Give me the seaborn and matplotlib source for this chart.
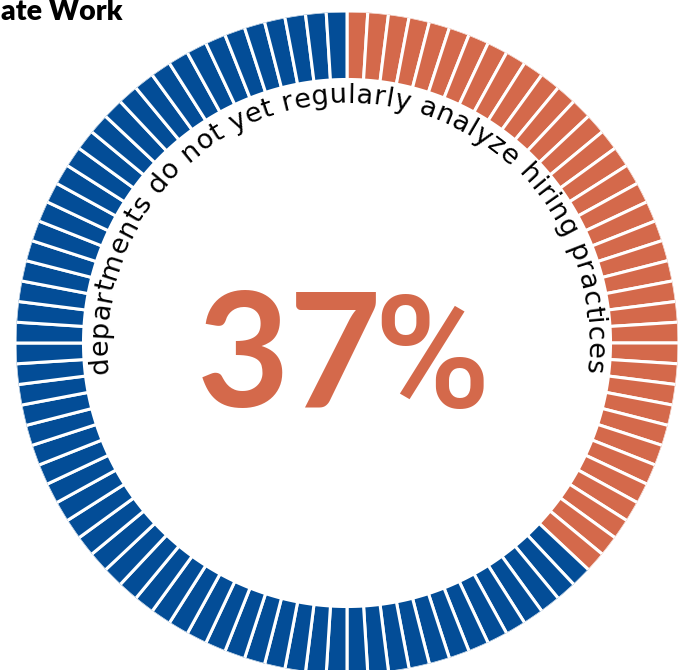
import numpy as np
import pandas as pd
import matplotlib
matplotlib.use("Agg")
import matplotlib.pyplot as plt
from matplotlib.font_manager import FontProperties
import seaborn as sns

# ---------------- data ----------------
title_text = "ate Work"
arc_label = "departments do not yet regularly analyze hiring practices"
share_pct = 37
group_names = ["do not yet analyze", "other"]
group_counts = [37, 63]           # segments out of 100
group_colors = ["#D4694B", "#034D97"]

# ---------------- setup ----------------
sns.set_theme(style="white")
plt.rcParams['font.family'] = ['Lato', 'DejaVu Sans']

W, H, DPI = 688, 670, 100
fig = plt.figure(figsize=(W / DPI, H / DPI), dpi=DPI)
fig.patch.set_facecolor("white")

cx, cy = 347, 343          # ring centre in pixels (from top-left)
R_out, R_in = 331, 264

ax = fig.add_axes([(cx - R_out) / W, (H - cy - R_out) / H, 2 * R_out / W, 2 * R_out / H],
                  projection='polar')
ax.set_theta_zero_location('N')
ax.set_theta_direction(-1)
ax.set_ylim(0, R_out)
ax.set_axis_off()

# segments table
n_seg = sum(group_counts)
seg = pd.DataFrame({
    "idx": np.arange(n_seg),
    "group": np.repeat(group_names, group_counts),
})
palette = dict(zip(group_names, sns.color_palette(group_colors)))
step = 2 * np.pi / n_seg
ax.bar((seg["idx"] + 0.5) * step, R_out - R_in + 1.5, width=step, bottom=R_in - 0.5,
       color=[palette[g] for g in seg["group"]], edgecolor="white", linewidth=2.2,
       align="center")

# ---------------- curved text ----------------
fig.canvas.draw()
renderer = fig.canvas.get_renderer()
fp = FontProperties(family=['DejaVu Sans'], size=19.5)


def tw(s):
    w, h, d = renderer.get_text_width_height_descent(s, fp, ismath=False)
    return w


widths = []
for ch in arc_label:
    if ch == " ":
        widths.append(tw("a a") - tw("aa"))
    else:
        widths.append(tw(ch))
widths = np.array(widths)

r_text = 240.0
start_deg, end_deg = -97.2, 97.2
arc_len = np.deg2rad(end_deg - start_deg) * r_text
tracking = (arc_len - widths.sum()) / (len(arc_label) - 1)
pos = 0.0
for ch, w in zip(arc_label, widths):
    s_mid = pos + w / 2
    theta = np.deg2rad(start_deg) + s_mid / r_text
    ax.text(theta, r_text, ch, fontproperties=fp, color="black",
            rotation=-np.rad2deg(theta), rotation_mode="anchor",
            ha="center", va="baseline")
    pos += w + tracking

# ---------------- overlay texts ----------------
ov = fig.add_axes([0, 0, 1, 1], facecolor="none")
ov.set_xlim(0, W)
ov.set_ylim(H, 0)
ov.set_axis_off()

ov.text(197, 407, f"{share_pct}", fontsize=115, fontweight="bold", color=group_colors[0],
        ha="left", va="baseline", family=['Lato', 'DejaVu Sans'])
ov.text(490, 407, "%", fontsize=114, fontweight="medium", color=group_colors[0],
        ha="right", va="baseline", family=['Roboto', 'DejaVu Sans'])

ov.text(1, 20, title_text, fontsize=20.5, fontweight="heavy", color="black",
        ha="left", va="baseline", family=['Lato', 'DejaVu Sans'])

fig.savefig("out.png", dpi=DPI, facecolor="white")
